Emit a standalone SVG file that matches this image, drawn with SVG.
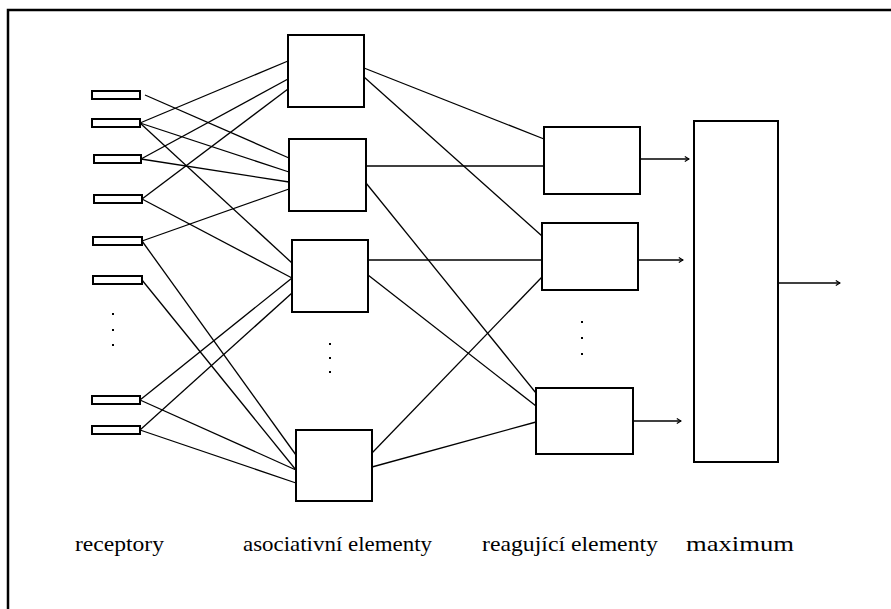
<svg xmlns="http://www.w3.org/2000/svg" width="891" height="609" viewBox="0 0 891 609">
<style>
.box{fill:#fff;stroke:#000;stroke-width:2}
.rec{fill:#fff;stroke:#000;stroke-width:2}
.ln{stroke:#000;stroke-width:1.3;fill:none}
.ar{stroke:#000;stroke-width:1.5;fill:none;marker-end:url(#arr)}
.lbl{font-family:"Liberation Serif",serif;font-size:21px;fill:#000}
.dot{fill:#000}
</style>
<defs>
<marker id="arr" viewBox="0 0 10 10" refX="9" refY="5" markerWidth="6" markerHeight="6" markerUnits="userSpaceOnUse" orient="auto">
<path d="M2,1 L9,5 L2,9" fill="none" stroke="#000" stroke-width="2"/>
</marker>
</defs>
<rect width="891" height="609" fill="#fff"/>
<path d="M8,609 V10 H891" fill="none" stroke="#000" stroke-width="2.5"/>
<g id="connectors">
<line class="ln" x1="145" y1="95" x2="289" y2="158"/>
<line class="ln" x1="140" y1="123" x2="288" y2="61"/>
<line class="ln" x1="140" y1="123" x2="289" y2="172"/>
<line class="ln" x1="140" y1="123" x2="292" y2="263"/>
<line class="ln" x1="141" y1="159" x2="288" y2="79"/>
<line class="ln" x1="141" y1="159" x2="289" y2="182"/>
<line class="ln" x1="142" y1="199" x2="288" y2="89"/>
<line class="ln" x1="142" y1="199" x2="292" y2="278"/>
<line class="ln" x1="142" y1="241" x2="289" y2="189"/>
<line class="ln" x1="142" y1="241" x2="296" y2="455"/>
<line class="ln" x1="142" y1="280" x2="296" y2="470"/>
<line class="ln" x1="140" y1="400" x2="292" y2="278"/>
<line class="ln" x1="140" y1="400" x2="296" y2="470"/>
<line class="ln" x1="140" y1="430" x2="292" y2="293"/>
<line class="ln" x1="140" y1="430" x2="296" y2="483"/>
<line class="ln" x1="364" y1="68" x2="544" y2="139"/>
<line class="ln" x1="364" y1="77" x2="542" y2="236"/>
<line class="ln" x1="366" y1="166" x2="544" y2="166"/>
<line class="ln" x1="366" y1="183" x2="536" y2="393"/>
<line class="ln" x1="368" y1="260" x2="542" y2="260"/>
<line class="ln" x1="368" y1="275" x2="536" y2="406"/>
<line class="ln" x1="372" y1="453" x2="542" y2="277"/>
<line class="ln" x1="372" y1="467" x2="536" y2="422"/>
<line class="ar" x1="640" y1="159" x2="689" y2="159"/>
<line class="ar" x1="638" y1="260" x2="683" y2="260"/>
<line class="ar" x1="633" y1="421" x2="681" y2="421"/>
<line class="ar" x1="778" y1="283" x2="840" y2="283"/>
</g>
<g id="receptor1"><rect class="rec" x="92" y="91" width="48" height="8"/></g>
<g id="receptor2"><rect class="rec" x="92" y="119" width="48" height="8"/></g>
<g id="receptor3"><rect class="rec" x="94" y="155" width="47" height="8"/></g>
<g id="receptor4"><rect class="rec" x="94" y="195" width="48" height="8"/></g>
<g id="receptor5"><rect class="rec" x="93" y="237" width="49" height="8"/></g>
<g id="receptor6"><rect class="rec" x="93" y="276" width="49" height="8"/></g>
<g id="receptor7"><rect class="rec" x="92" y="396" width="48" height="8"/></g>
<g id="receptor8"><rect class="rec" x="92" y="426" width="48" height="8"/></g>
<g id="receptor-dots">
<rect class="dot" x="112" y="313" width="2" height="2"/>
<rect class="dot" x="112" y="329" width="2" height="2"/>
<rect class="dot" x="112" y="344" width="2" height="2"/>
</g>
<g id="assoc1"><rect class="box" x="288" y="35" width="76" height="72"/></g>
<g id="assoc2"><rect class="box" x="289" y="139" width="77" height="72"/></g>
<g id="assoc3"><rect class="box" x="292" y="240" width="76" height="72"/></g>
<g id="assoc4"><rect class="box" x="296" y="430" width="76" height="71"/></g>
<g id="assoc-dots">
<rect class="dot" x="329" y="343" width="2" height="2"/>
<rect class="dot" x="329" y="357" width="2" height="2"/>
<rect class="dot" x="329" y="371" width="2" height="2"/>
</g>
<g id="react1"><rect class="box" x="544" y="127" width="96" height="67"/></g>
<g id="react2"><rect class="box" x="542" y="223" width="96" height="67"/></g>
<g id="react3"><rect class="box" x="536" y="388" width="97" height="66"/></g>
<g id="react-dots">
<rect class="dot" x="581" y="321" width="2" height="2"/>
<rect class="dot" x="581" y="337" width="2" height="2"/>
<rect class="dot" x="581" y="353" width="2" height="2"/>
</g>
<g id="maximum"><rect class="box" x="694" y="121" width="84" height="341"/></g>
<g id="labels">
<text class="lbl" x="75" y="551" textLength="89" lengthAdjust="spacingAndGlyphs">receptory</text>
<text class="lbl" x="243" y="551" textLength="189" lengthAdjust="spacingAndGlyphs">asociativní elementy</text>
<text class="lbl" x="482" y="551" textLength="176" lengthAdjust="spacingAndGlyphs">reagující elementy</text>
<text class="lbl" x="686" y="551" textLength="108" lengthAdjust="spacingAndGlyphs">maximum</text>
</g>
</svg>
